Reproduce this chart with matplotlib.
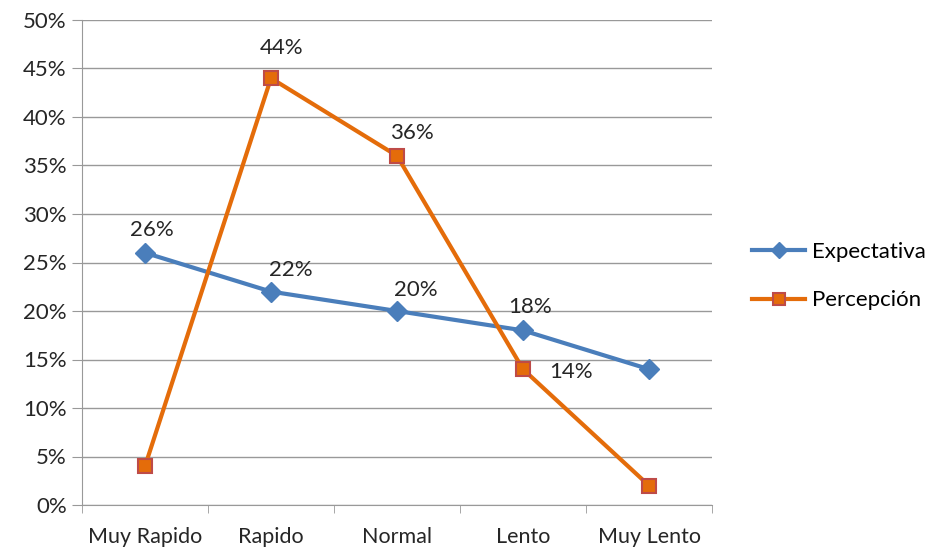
import matplotlib
matplotlib.use('Agg')
import matplotlib.pyplot as plt
from matplotlib.ticker import FuncFormatter, FixedLocator

categorias = ['Muy Rapido', 'Rapido', 'Normal', 'Lento', 'Muy Lento']
expectativa = [26, 22, 20, 18, 14]
percepcion = [4, 44, 36, 14, 2]
yticks = [0, 5, 10, 15, 20, 25, 30, 35, 40, 45, 50]

plt.rcParams['font.family'] = ['Lato', 'DejaVu Sans']

fig = plt.figure(figsize=(9.38, 5.49), dpi=100)
ax = fig.add_axes([82/938, 1-505/549, 630/938, 485/549])

x = list(range(len(categorias)))
ax.plot(x, expectativa, color='#4A7EBB', lw=3, marker='D', ms=10,
        mfc='#4A7EBB', mec='#4A7EBB', label='Expectativa', zorder=3)
ax.plot(x, percepcion, color='#E46C0A', lw=3, marker='s', ms=10,
        mfc='#E46C0A', mec='#BE4B48', mew=1.5, label='Percepción', zorder=3)

# etiquetas de datos (solo las que aparecen)
etq_exp = {0: (7, 23), 1: (20, 22), 2: (19, 21), 3: (7, 23)}
etq_per = {1: (11, 30), 2: (15, 23), 3: (48, -3)}
for i, off in etq_exp.items():
    ax.annotate('%d%%' % expectativa[i], (x[i], expectativa[i]), xytext=off,
                textcoords='offset pixels', ha='center', va='center', fontsize=16, color='#262626')
for i, off in etq_per.items():
    ax.annotate('%d%%' % percepcion[i], (x[i], percepcion[i]), xytext=off,
                textcoords='offset pixels', ha='center', va='center', fontsize=16, color='#262626')

ax.set_xlim(-0.5, len(categorias) - 0.5)
ax.set_ylim(0, 50)
ax.set_yticks(yticks)
ax.yaxis.set_major_formatter(FuncFormatter(lambda v, p: '%d%%' % v))
ax.set_xticks(x)
ax.set_xticklabels(categorias)
ax.xaxis.set_minor_locator(FixedLocator([i - 0.5 for i in range(len(categorias) + 1)]))
ax.tick_params(axis='x', which='major', length=0, pad=16, labelsize=15.5, labelcolor='#262626')
ax.tick_params(axis='x', which='minor', length=6, color='#999999', direction='out')
ax.tick_params(axis='y', length=7, color='#999999', labelsize=16, labelcolor='#262626', pad=4)
ax.grid(axis='y', color='#999999', lw=1)
ax.set_axisbelow(True)
for s in ['top', 'right']:
    ax.spines[s].set_visible(False)
ax.spines['left'].set_color('#999999')
ax.spines['bottom'].set_color('#999999')

fig.legend(loc='center left', bbox_to_anchor=(752/938, 1-276/549), frameon=False,
           fontsize=16, handlelength=2.4, labelspacing=1.3, handletextpad=0.3,
           borderpad=0, borderaxespad=0, markerscale=0.85)

fig.savefig('out.png', dpi=100)
